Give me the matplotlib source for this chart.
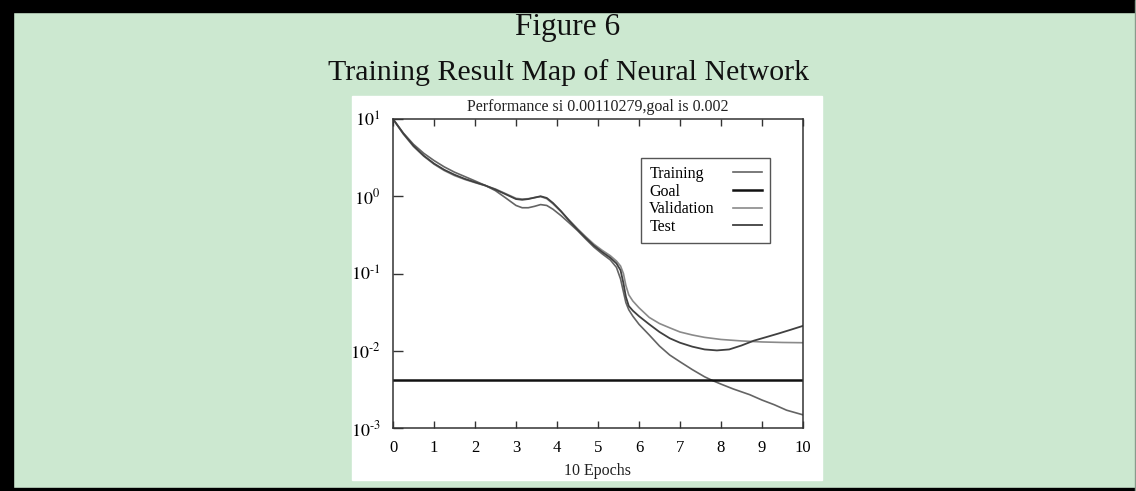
import matplotlib
matplotlib.use("Agg")
import matplotlib.pyplot as plt
from matplotlib.patches import Rectangle

plt.rcParams['font.family'] = ['Liberation Serif', 'DejaVu Serif']
plt.rcParams['mathtext.fontset'] = 'stix'

# values (epochs vs performance, log scale)
train_x = [0, 0.25, 0.5, 0.75, 1.0, 1.25, 1.5, 1.75, 2.0, 2.25, 2.5, 2.75, 3.0, 3.15, 3.3, 3.45,
           3.6, 3.75, 3.9, 4.1, 4.3, 4.5, 4.7, 4.9, 5.1, 5.3, 5.45, 5.55, 5.62, 5.68, 5.75, 5.85,
           6.0, 6.25, 6.5, 6.75, 7.0, 7.3, 7.6, 7.8, 8.0, 8.3, 8.7, 9.0, 9.3, 9.6, 10.0]
train_y = [10, 6.6, 4.7, 3.6, 2.9, 2.4, 2.05, 1.8, 1.58, 1.38, 1.18, 0.95, 0.76, 0.71, 0.71, 0.74,
           0.78, 0.76, 0.68, 0.56, 0.45, 0.36, 0.28, 0.22, 0.18, 0.15, 0.12, 0.085, 0.058, 0.042, 0.034, 0.028,
           0.022, 0.016, 0.0115, 0.0088, 0.0072, 0.0057, 0.0046, 0.0041, 0.0037, 0.0032, 0.0027, 0.0023, 0.0020, 0.0017, 0.00148]

val_x = [0, 0.25, 0.5, 0.75, 1.0, 1.25, 1.5, 1.75, 2.0, 2.25, 2.5, 2.75, 3.0, 3.15, 3.3, 3.45,
         3.6, 3.75, 3.9, 4.1, 4.3, 4.5, 4.7, 4.9, 5.1, 5.3, 5.45, 5.55, 5.62, 5.68, 5.75, 5.85,
         6.0, 6.25, 6.5, 6.75, 7.0, 7.3, 7.6, 8.0, 8.5, 9.0, 9.5, 10.0]
val_y = [10, 6.4, 4.4, 3.3, 2.6, 2.15, 1.85, 1.65, 1.5, 1.37, 1.24, 1.08, 0.94, 0.92, 0.93, 0.96,
         0.99, 0.93, 0.80, 0.63, 0.49, 0.38, 0.30, 0.24, 0.20, 0.17, 0.145, 0.125, 0.10, 0.07, 0.053, 0.044,
         0.036, 0.027, 0.0225, 0.0198, 0.0175, 0.0160, 0.0149, 0.0140, 0.0134, 0.0130, 0.0128, 0.0127]

test_x = [0, 0.25, 0.5, 0.75, 1.0, 1.25, 1.5, 1.75, 2.0, 2.25, 2.5, 2.75, 3.0, 3.15, 3.3, 3.45,
          3.6, 3.75, 3.9, 4.1, 4.3, 4.5, 4.7, 4.9, 5.1, 5.3, 5.45, 5.55, 5.62, 5.68, 5.75, 5.85,
          6.0, 6.25, 6.5, 6.75, 7.0, 7.3, 7.6, 7.9, 8.2, 8.5, 8.8, 9.1, 9.4, 9.7, 10.0]
test_y = [10, 6.5, 4.5, 3.35, 2.65, 2.2, 1.9, 1.68, 1.52, 1.38, 1.22, 1.06, 0.92, 0.90, 0.92, 0.96,
          1.0, 0.95, 0.82, 0.64, 0.48, 0.37, 0.29, 0.23, 0.19, 0.16, 0.135, 0.11, 0.075, 0.05, 0.038, 0.033,
          0.028, 0.022, 0.0175, 0.0145, 0.0127, 0.0113, 0.0104, 0.0101, 0.0104, 0.0117, 0.0135, 0.0150, 0.0167, 0.0187, 0.021]

goal_level = 0.0042

x_ticks = list(range(0, 11))
y_ticks = [1e-3, 1e-2, 1e-1, 1e0, 1e1]
y_tick_labels = [r'$10^{\text{-}3}$', r'$10^{\text{-}2}$', r'$10^{\text{-}1}$', r'$10^{0}$', r'$10^{1}$']

W, H = 1136, 491
fig = plt.figure(figsize=(W / 100, H / 100), dpi=100)
fig.patch.set_facecolor('#cce8d0')

# black frame (thick left/top, thin bottom/right) like the reference
fig.patches.append(Rectangle((0, 0), 13 / W, 1, transform=fig.transFigure, color='black', zorder=0))
fig.patches.append(Rectangle((0, 1 - 12 / H), 1, 12 / H, transform=fig.transFigure, color='black', zorder=0))
fig.patches.append(Rectangle((0, 0), 1, 3 / H, transform=fig.transFigure, color='black', zorder=0))
fig.patches.append(Rectangle((1 - 1 / W, 0), 1 / W, 1, transform=fig.transFigure, color='#8a9a8c', zorder=0))
# white panel behind the plot
fig.patches.append(Rectangle((352 / W, 1 - 480 / H), 470 / W, 384 / H, transform=fig.transFigure,
                             color='white', zorder=0))

fig.text(568 / W, 1 - 28 / H, 'Figure 6', ha='center', va='center', fontsize=22.5, color='#111111')
fig.text(568 / W, 1 - 73 / H, 'Training Result Map of Neural Network', ha='center', va='center',
         fontsize=21.5, color='#111111')

ax = fig.add_axes([393 / W, 1 - 428 / H, 410 / W, 309 / H])
ax.set_zorder(3)
ax.set_yscale('log')

ax.plot(train_x, train_y, color='#646464', lw=1.2, label='Training')
ax.axhline(goal_level, color='#111111', lw=1.8, label='Goal')
ax.plot(val_x, val_y, color='#8a8a8a', lw=1.2, label='Validation')
ax.plot(test_x, test_y, color='#404040', lw=1.3, label='Test')

ax.set_xlim(0, 10)
ax.set_ylim(1e-3, 1e1)
ax.set_xticks(x_ticks)
ax.set_yticks(y_ticks)
ax.set_yticklabels(y_tick_labels)
ax.minorticks_off()
ax.tick_params(axis='x', direction='in', top=True, length=5, width=1, color='#333333',
               labelsize=12, pad=9)
ax.tick_params(axis='y', direction='in', length=7, width=1, color='#333333', labelsize=13, pad=9)
for s in ax.spines.values():
    s.set_color('#333333')
    s.set_linewidth(1.1)

ax.set_title('Performance si 0.00110279,goal is 0.002', fontsize=11.5, pad=6, color='#222222')
ax.set_xlabel('10 Epochs', fontsize=11.5, labelpad=5, color='#222222')

leg = ax.legend(loc='upper right', bbox_to_anchor=(0.92, 0.874), borderaxespad=0,
                markerfirst=False, fancybox=False, framealpha=1, edgecolor='#555555',
                fontsize=11.5, handlelength=1.8, handletextpad=0.8, labelspacing=0.1,
                borderpad=0.5)
leg.get_frame().set_linewidth(1.0)
# labels flush left, line samples flush right, as in the reference legend
for col in leg._legend_handle_box.get_children():
    col.width = 113
    for row in col.get_children():
        row.mode = 'expand'

fig.savefig('out.png', dpi=100, facecolor=fig.get_facecolor())
